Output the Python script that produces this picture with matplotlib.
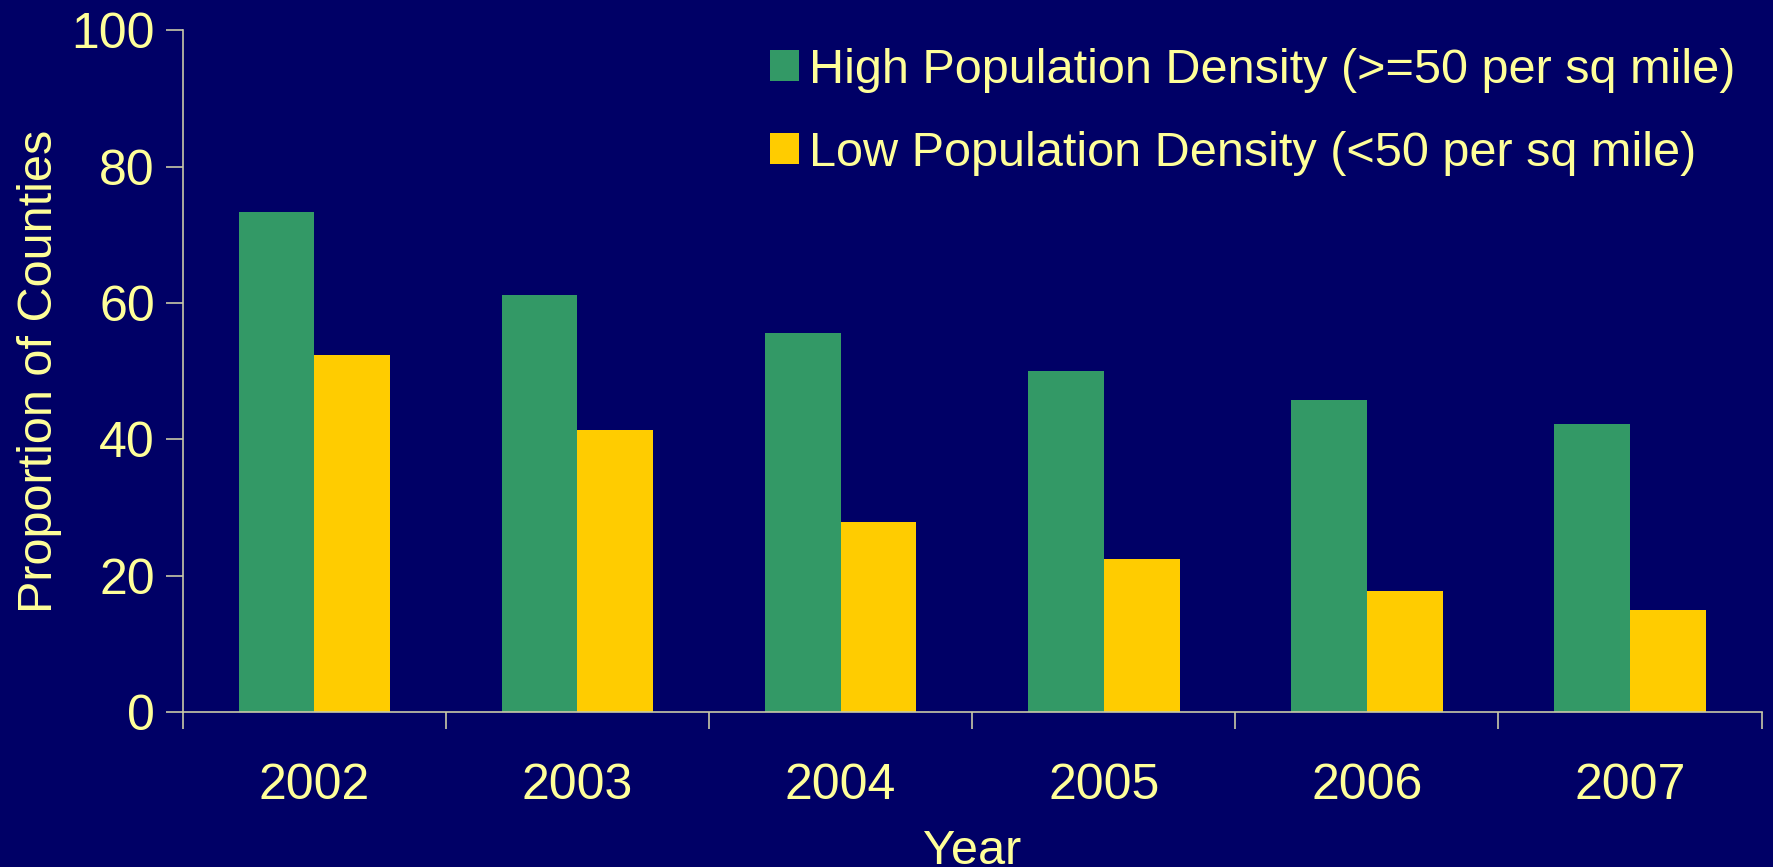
import numpy as np
import matplotlib
matplotlib.use('Agg')
import matplotlib.pyplot as plt
from matplotlib.patches import Patch

# data
years = ['2002', '2003', '2004', '2005', '2006', '2007']
high_density = [73.4, 61.1, 55.6, 50.0, 45.7, 42.2]
low_density = [52.3, 41.4, 27.9, 22.4, 17.8, 15.0]
labels = ['High Population Density (>=50 per sq mile)',
          'Low Population Density (<50 per sq mile)']

bg = '#000066'
txt = '#ffff99'
green = '#339966'
yellow = '#ffcc00'
axcol = '#c8c8a8'

plt.rcParams['font.family'] = ['Liberation Sans', 'DejaVu Sans']

fig = plt.figure(figsize=(17.74, 8.67), dpi=100, facecolor=bg)
ax = fig.add_axes([0.103, 0.179, 0.890, 0.786])
ax.set_facecolor(bg)

x = np.arange(len(years))
w = 0.288
ax.bar(x - w / 2, high_density, w, color=green, zorder=2)
ax.bar(x + w / 2, low_density, w, color=yellow, zorder=2)

ax.set_xlim(-0.5, len(years) - 0.5)
ax.set_ylim(0, 100)
ax.set_yticks(np.arange(0, 101, 20))

# year labels centred, tick marks between groups
ax.set_xticks(x)
ax.set_xticklabels(years)
ax.set_xticks(np.arange(-0.5, len(years), 1), minor=True)
ax.tick_params(axis='x', which='major', length=0, pad=37, labelsize=36, labelcolor=txt)
ax.tick_params(axis='x', which='minor', length=12, width=1.2, color=axcol, direction='out')
ax.tick_params(axis='y', length=12, width=1.2, color=axcol, pad=8, labelsize=36, labelcolor=txt)

for s in ['top', 'right']:
    ax.spines[s].set_visible(False)
for s in ['left', 'bottom']:
    ax.spines[s].set_color(axcol)
    ax.spines[s].set_linewidth(1.2)

ax.set_ylabel('Proportion of Counties', color=txt, fontsize=35, labelpad=7)
ax.set_xlabel('Year', color=txt, fontsize=35, labelpad=0)
ax.xaxis.set_label_coords(0.5, -0.172, transform=ax.transAxes)

handles = [Patch(facecolor=green), Patch(facecolor=yellow)]
fig.legend(handles, labels, loc='upper left', bbox_to_anchor=(0.434, 0.945),
           frameon=False, fontsize=35, labelcolor=txt, handlelength=0.6,
           handleheight=0.6, handletextpad=0.2, labelspacing=0.78,
           borderpad=0, borderaxespad=0)

fig.savefig('out.png', dpi=100, facecolor=bg)
